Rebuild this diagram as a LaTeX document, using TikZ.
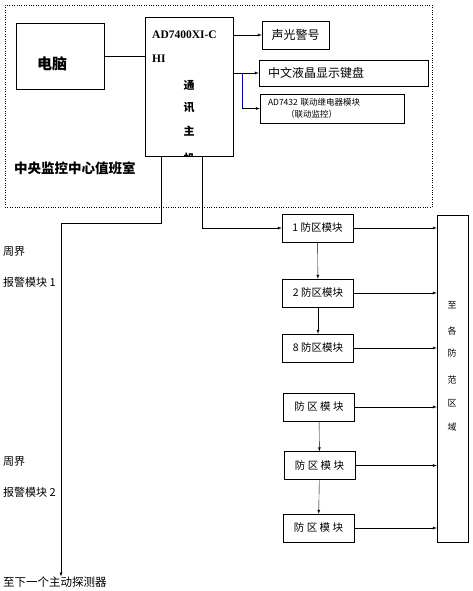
\documentclass[tikz,border=0pt]{standalone}
\usepackage{fontspec}
\setmainfont{Liberation Serif}
\newfontfamily\cjk{Noto Sans CJK SC}

\begin{document}
\begin{tikzpicture}[x=1pt, y=-1pt,
    box/.style = {draw, inner sep=1pt, font=\cjk\fontsize{12}{14}\selectfont},
    zone/.style = {draw, minimum width=71pt, minimum height=28pt, inner sep=1pt, font=\cjk\fontsize{10.5}{12}\selectfont},
    side/.style = {anchor=west, inner sep=0pt, font=\cjk\fontsize{11}{13}\selectfont},
    host txt/.style = {inner sep=0pt, font=\bfseries\fontsize{11.5}{13}\selectfont},
    host cjk/.style = {inner sep=0pt, font=\cjk\bfseries\fontsize{11}{13}\selectfont}]
    \useasboundingbox (0,0) rectangle (473,591);

    \node[draw, dotted, minimum width=427pt, minimum height=202pt] (room) at (218.5,106) {};
    \node[side, font=\cjk\bfseries\fontsize{13.5}{15}\selectfont] (room name) at (14,168) {中央监控中心值班室};

    \node[draw, minimum width=88pt, minimum height=66pt] (pc) at (60,56) {};
    \node[inner sep=0pt, font=\cjk\bfseries\fontsize{15}{17}\selectfont] (pc txt) at (52,64) {电脑};

    \node[draw, minimum width=88pt, minimum height=139pt] (host) at (189,86.5) {};
    \node[host txt, anchor=west] (host l1) at (152,35) {AD7400XI-C};
    \node[host txt, anchor=west] (host l2) at (152,59) {HI};
    \node[host cjk] (host c1) at (189,85) {通};
    \node[host cjk] (host c2) at (189,108) {讯};
    \node[host cjk] (host c3) at (189,131) {主};
    \begin{scope}
        \clip (host.north west) rectangle (host.south east);
        \node[host cjk] (host c4) at (189,158) {机};
    \end{scope}

    \draw (pc.east) -- (pc.east -| host.west);

    \node[box, minimum width=67pt, minimum height=28pt] (alarm) at (295.5,35) {声光警号};
    \node[box, minimum width=169pt, minimum height=26pt, text width=151pt, align=left] (kbd) at (343.5,73) {中文液晶显示键盘};
    \node[box, minimum width=144pt, minimum height=29pt, text width=128pt, align=left, font=\cjk\fontsize{8.5}{12}\selectfont] (relay) at (332,108.5) {AD7432 联动继电器模块\\\hspace*{18pt}（联动监控）};

    \draw[-latex] (alarm.west -| host.east) -- (alarm.west);
    \draw[-latex] (kbd.west -| host.east) -- (kbd.west);
    \coordinate (tap) at (242,73);
    \draw[blue!70!black] (tap) -- (tap |- relay.west);
    \draw[-latex] (tap |- relay.west) -- (relay.west);

    % zone modules
    \node[zone] (z1) at (317.5,228) {1 防区模块};
    \node[zone] (z2) at (318,293) {2 防区模块};
    \node[zone] (z3) at (318,348) {8 防区模块};
    \node[zone] (z4) at (319,407) {防 区 模 块};
    \node[zone] (z5) at (319.5,465.5) {防 区 模 块};
    \node[zone] (z6) at (318.5,528) {防 区 模 块};

    \node[draw, minimum width=31pt, minimum height=327pt] (all) at (452.5,378.5) {};
    \foreach \ch/\y in {至/305, 各/331, 防/353, 范/380, 区/403, 域/427}
        \node[inner sep=0pt, font=\cjk\fontsize{9}{10}\selectfont] (all \y) at (452,\y) {\ch};

    \draw[-latex] (z1) -- (z2);
    \draw[-latex] (z2) -- (z3);
    \draw[-latex] (z4) -- (z5);
    \draw[-latex] (z5) -- (z6);
    \foreach \z in {z1, z2, z3, z4, z5, z6}
        \draw[-latex] (\z.east) -- (\z.east -| all.west);

    % bus lines from host
    \node[side, font=\cjk\fontsize{11.5}{13}\selectfont] (next) at (3,582) {至下一个主动探测器};
    \coordinate (bus a) at (161,223);
    \coordinate (bus b) at (61,223);
    \draw[-latex] (host.south -| bus a) -- (bus a) -- (bus b) -- (bus b |- next.north);
    \coordinate (bus c) at (202,228);
    \draw[-latex] (host.south -| bus c) -- (bus c) -- (z1.west);

    \node[side] (ring1) at (3,252) {周界};
    \node[side] (ring1 b) at (3,282) {报警模块 1};
    \node[side] (ring2) at (3,462) {周界};
    \node[side] (ring2 b) at (3,492) {报警模块 2};
\end{tikzpicture}
\end{document}
